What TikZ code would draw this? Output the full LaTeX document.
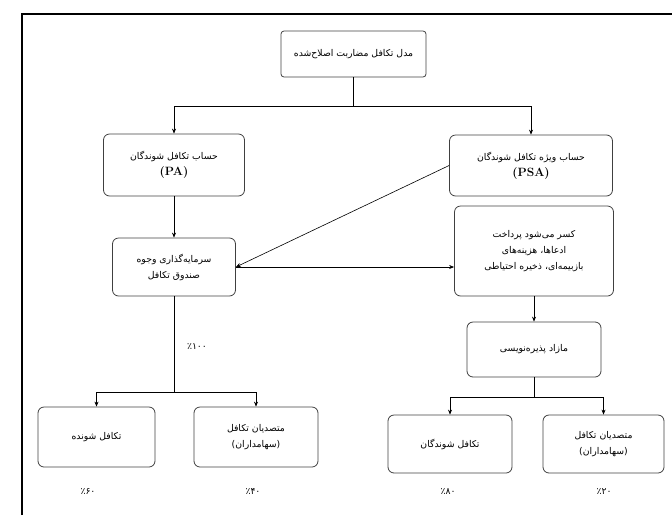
\documentclass[tikz,border=0pt]{standalone}
\usepackage{fontspec}
\usepackage{tikz}
\usetikzlibrary{arrows.meta}
\newfontfamily\arabicfont[Script=Arabic]{DejaVu Sans}
\TeXXeTstate=1
\newcommand{\fa}[1]{{\arabicfont\beginR #1\endR}}

\begin{document}
\begin{tikzpicture}[
  x=1pt, y=-1pt,
  box/.style={draw=black!75, rounded corners=6pt, align=center, line width=0.8pt,
              font=\fontsize{9.3}{16}\selectfont, inner sep=2pt},
  pct/.style={font=\fontsize{9.3}{10}\selectfont},
  arr/.style={-{Stealth[length=5pt,width=4pt]}, line width=0.6pt},
  ln/.style={line width=0.6pt}
]
  \useasboundingbox (0,0) rectangle (672,515);
  % frame
  \draw[line width=2pt] (22,515) -- (22,14) -- (672,14);

  % boxes
  \node[box, rounded corners=3pt, minimum width=145pt, minimum height=46pt] (model) at (353.5,54) {\fa{مدل تکافل مضاربت اصلاح‌شده}};
  \node[box, minimum width=141pt, minimum height=62pt] (pa) at (174,165) {\fa{حساب تکافل شوندگان}\\\textbf{\large (PA)}};
  \node[box, minimum width=163pt, minimum height=61pt] (psa) at (531,165.5) {\fa{حساب ویژه تکافل شوندگان}\\\textbf{\large (PSA)}};
  \node[box, minimum width=123pt, minimum height=58pt] (invest) at (174,267) {\fa{سرمایه‌گذاری وجوه}\\\fa{صندوق تکافل}};
  \node[box, minimum width=159pt, minimum height=90pt] (deduct) at (534,251) {\fa{کسر می‌شود پرداخت}\\\fa{ادعاها، هزینه‌های}\\\fa{بازبیمه‌ای، ذخیره احتیاطی}};
  \node[box, minimum width=134pt, minimum height=55pt] (surplus) at (534,349.5) {\fa{مازاد پذیره‌نویسی}};
  \node[box, minimum width=117pt, minimum height=60pt] (partL) at (96.5,437) {\fa{تکافل شونده}};
  \node[box, minimum width=124pt, minimum height=60pt] (operL) at (256,437) {\fa{متصدیان تکافل}\\\fa{(سهامداران)}};
  \node[box, minimum width=124pt, minimum height=58pt] (partR) at (450,444) {\fa{تکافل شوندگان}};
  \node[box, minimum width=121pt, minimum height=58pt] (operR) at (603.5,444) {\fa{متصدیان تکافل}\\\fa{(سهامداران)}};

  % upper split
  \coordinate (busL) at (174,106);
  \coordinate (busR) at (531,106);
  \draw[ln] (model.south) -- (model.south |- busL);
  \draw[ln] (busL) -- (busR);
  \draw[arr] (busL) -- (pa.north);
  \draw[arr] (busR) -- (psa.north);

  % middle flows
  \draw[arr] (pa.south) -- (invest.north);
  \draw[arr] (psa.west) -- (invest.east);
  \draw[arr] (invest.east) -- (deduct.west |- invest.east);
  \draw[arr] (deduct.south) -- (surplus.north);

  % left split
  \coordinate (splitL) at (174,392);
  \draw[ln] (invest.south) -- (splitL);
  \draw[ln] (partL.north |- splitL) -- (operL.north |- splitL);
  \draw[arr] (partL.north |- splitL) -- (partL.north);
  \draw[arr] (operL.north |- splitL) -- (operL.north);
  \node[pct] (all) at (197,347) {\arabicfont ٪۱۰۰};

  % right split
  \coordinate (splitR) at (534,397);
  \draw[ln] (surplus.south) -- (splitR);
  \draw[ln] (partR.north |- splitR) -- (operR.north |- splitR);
  \draw[arr] (partR.north |- splitR) -- (partR.north);
  \draw[arr] (operR.north |- splitR) -- (operR.north);

  % shares
  \node[pct] (sPL) at (88,492) {\arabicfont ٪۶۰};
  \node[pct] (sOL) at (253,492) {\arabicfont ٪۴۰};
  \node[pct] (sPR) at (448,492) {\arabicfont ٪۸۰};
  \node[pct] (sOR) at (604,492) {\arabicfont ٪۲۰};
\end{tikzpicture}
\end{document}
